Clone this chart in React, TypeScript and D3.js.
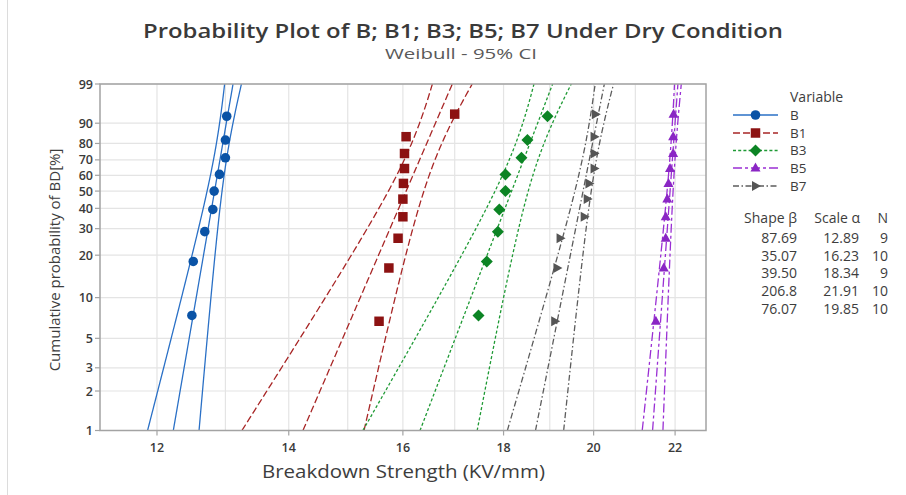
import React from "react";
import * as d3 from "d3";

// ---------- data ----------
const seriesNames = ["B", "B1", "B3", "B5", "B7"];
const valuesB = [12.5, 12.52, 12.69, 12.81, 12.83, 12.91, 13.0, 13.0, 13.02];
const valuesB1 = [15.56, 15.74, 15.91, 16.0, 16.0, 16.01, 16.03, 16.03, 16.06, 17.0];
const valuesB3 = [17.48, 17.65, 17.88, 17.91, 18.04, 18.04, 18.38, 18.51, 18.95];
const valuesB5 = [21.51, 21.71, 21.76, 21.76, 21.8, 21.83, 21.87, 21.95, 21.95, 21.96];
const valuesB7 = [19.11, 19.16, 19.23, 19.78, 19.85, 19.89, 20.01, 20.01, 20.01, 20.04];
const percent9 = [7.4, 18.1, 28.7, 39.4, 50.0, 60.6, 71.3, 81.9, 92.6];
const percent10 = [6.7, 16.3, 26.0, 35.6, 45.2, 54.8, 64.4, 74.0, 83.7, 93.3];
const shapes = [87.69, 35.07, 39.5, 206.8, 76.07];
const shapeLabels = ["87.69", "35.07", "39.50", "206.8", "76.07"];
const scales = [12.89, 16.23, 18.34, 21.91, 19.85];
const scaleLabels = ["12.89", "16.23", "18.34", "21.91", "19.85"];
const counts = [9, 10, 9, 10, 10];
const xTickValues = [12, 14, 16, 18, 20, 22];
const xGridValues = [12, 13, 14, 15, 16, 17, 18, 19, 20, 21, 22];
const yTickValues = [1, 2, 3, 5, 10, 20, 30, 40, 50, 60, 70, 80, 90, 99];

// ---------- styles ----------
const lineColors = ["#2a70c6", "#a82626", "#1f9a35", "#9a2fd4", "#5c5c5c"];
const markerColors = ["#0a53a6", "#8c1212", "#0c8424", "#8a26c4", "#555555"];
const dashes = ["none", "7,3", "3,2.2", "9,3,3,3", "6,2.5,1.5,2.5"];
const markerTypes = ["circle", "square", "diamond", "triangleUp", "triangleRight"];

const FONT = "'Open Sans', 'Noto Sans', sans-serif";

const weib = (p: number) => Math.log(-Math.log(1 - p));

function markerPath(type: string): string {
  switch (type) {
    case "circle":
      return d3.symbol(d3.symbolCircle, 72)()!;
    case "square":
      return d3.symbol(d3.symbolSquare, 90)()!;
    case "diamond":
      return "M0,-6L6,0L0,6L-6,0Z";
    case "triangleUp":
      return "M0,-5.5L5,3.5L-5,3.5Z";
    case "triangleRight":
      return "M5.5,0L-3.5,-5L-3.5,5Z";
  }
  return "";
}

export default function App() {
  const W = 906;
  const H = 495;
  const left = 100, right = 706, top = 84, bottom = 430.5;
  const x = d3.scaleLog().domain([11.226, 22.81]).range([left, right]);
  const y = d3.scaleLinear().domain([weib(0.01), weib(0.99)]).range([bottom, top]);

  const allValues = [valuesB, valuesB1, valuesB3, valuesB5, valuesB7];
  const allPercents = [percent9, percent10, percent9, percent10, percent10];

  const wLo = weib(0.01);
  const wHi = weib(0.99);
  const steps = d3.range(0, 121).map((i) => wLo + ((wHi - wLo) * i) / 120);
  const z = 1.96;

  const line = d3
    .line<[number, number]>()
    .x((d) => d[0])
    .y((d) => d[1]);

  const fitPaths = seriesNames.map((_, s) => {
    const beta = shapes[s];
    const alpha = scales[s];
    const n = counts[s];
    const center: [number, number][] = [];
    const lower: [number, number][] = [];
    const upper: [number, number][] = [];
    steps.forEach((w) => {
      const lx = Math.log(alpha) + w / beta;
      const se = Math.sqrt((1.1087 - 0.514 * w + 0.6079 * w * w) / (n * beta * beta));
      center.push([x(Math.exp(lx)), y(w)]);
      lower.push([x(Math.exp(lx - z * se)), y(w)]);
      upper.push([x(Math.exp(lx + z * se)), y(w)]);
    });
    return [line(center)!, line(lower)!, line(upper)!];
  });

  const legendX0 = 733, legendX1 = 778, legendText = 790;
  const legendY = [115, 133, 150.5, 168, 186];
  const tableRows = [238, 255.5, 273, 291, 308.5];
  const txt = "#3d3d3d";

  return (
    <svg
      width={W}
      height={H}
      style={{ position: "absolute", left: 0, top: 0, background: "#fff" }}
      fontFamily={FONT}
    >
      <rect x={0} y={0} width={W} height={H} fill="#fff" />
      <line x1={7.5} y1={0} x2={7.5} y2={H} stroke="#dcdcdc" strokeWidth={1} />
      <defs>
        <clipPath id="plotClip">
          <rect x={left} y={top} width={right - left} height={bottom - top} />
        </clipPath>
      </defs>

      {/* Title */}
      <text
        x={143}
        y={38}
        fontSize={20}
        fontWeight={600}
        fill="#3a3a3a"
        textLength={640}
        lengthAdjust="spacingAndGlyphs"
      >
        Probability Plot of B; B1; B3; B5; B7 Under Dry Condition
      </text>
      <text x={385} y={59} fontSize={15} fill="#595959" textLength={152} lengthAdjust="spacingAndGlyphs">
        Weibull - 95% CI
      </text>

      {/* grid */}
      {xGridValues.map((v) => (
        <line key={"gx" + v} x1={x(v)} x2={x(v)} y1={top} y2={bottom} stroke="#e4e4e4" strokeWidth={1.2} />
      ))}
      {yTickValues.map((v) => (
        <line
          key={"gy" + v}
          x1={left}
          x2={right}
          y1={y(weib(v / 100))}
          y2={y(weib(v / 100))}
          stroke="#e4e4e4"
          strokeWidth={1.2}
        />
      ))}

      {/* fit lines + CI */}
      <g clipPath="url(#plotClip)">
        {fitPaths.map((paths, s) =>
          paths.map((dPath, k) => (
            <path
              key={"p" + s + "-" + k}
              d={dPath}
              fill="none"
              stroke={lineColors[s]}
              strokeWidth={1.3}
              strokeDasharray={dashes[s]}
            />
          ))
        )}
      </g>

      {/* points */}
      {allValues.map((vals, s) =>
        vals.map((v, i) => (
          <path
            key={"m" + s + "-" + i}
            d={markerPath(markerTypes[s])}
            transform={`translate(${x(v)},${y(weib(allPercents[s][i] / 100))})`}
            fill={markerColors[s]}
          />
        ))
      )}

      {/* frame */}
      <rect x={left} y={top} width={right - left} height={bottom - top} fill="none" stroke="#a3a3a3" strokeWidth={1.5} />

      {/* y ticks */}
      {yTickValues.map((v) => (
        <g key={"yt" + v}>
          <line x1={left - 5} x2={left} y1={y(weib(v / 100))} y2={y(weib(v / 100))} stroke="#a3a3a3" strokeWidth={1.2} />
          <text
            x={left - 7}
            y={y(weib(v / 100))}
            dy="0.36em"
            textAnchor="end"
            fontSize={12.5}
            fontWeight={600}
            fill="#3a3a3a"
          >
            {v}
          </text>
        </g>
      ))}
      {/* x ticks */}
      {xTickValues.map((v) => (
        <g key={"xt" + v}>
          <line x1={x(v)} x2={x(v)} y1={bottom} y2={bottom + 5} stroke="#a3a3a3" strokeWidth={1.2} />
          <text x={x(v)} y={bottom + 21} textAnchor="middle" fontSize={12.5} fontWeight={600} fill="#3a3a3a">
            {v}
          </text>
        </g>
      ))}

      {/* axis titles */}
      <text x={262} y={478} fontSize={17.5} fill={txt} textLength={283} lengthAdjust="spacingAndGlyphs">
        Breakdown Strength (KV/mm)
      </text>
      <text
        transform={`translate(60,260) rotate(-90)`}
        textAnchor="middle"
        fontSize={15}
        fill={txt}
      >
        Cumulative probability of BD[%]
      </text>

      {/* legend */}
      <text x={legendText} y={102} fontSize={14} fill={txt}>
        Variable
      </text>
      {seriesNames.map((name, s) => (
        <g key={"lg" + name}>
          <line
            x1={legendX0}
            x2={legendX1}
            y1={legendY[s]}
            y2={legendY[s]}
            stroke={lineColors[s]}
            strokeWidth={1.3}
            strokeDasharray={dashes[s]}
          />
          <path
            d={markerPath(markerTypes[s])}
            transform={`translate(${(legendX0 + legendX1) / 2},${legendY[s]})`}
            fill={markerColors[s]}
          />
          <text x={legendText} y={legendY[s]} dy="0.36em" fontSize={13.5} fill={txt}>
            {name}
          </text>
        </g>
      ))}

      {/* table */}
      <text x={797} y={223} textAnchor="end" fontSize={14} fill={txt}>Shape β</text>
      <text x={860} y={223} textAnchor="end" fontSize={14} fill={txt}>Scale α</text>
      <text x={888} y={223} textAnchor="end" fontSize={14} fill={txt}>N</text>
      {seriesNames.map((name, s) => (
        <g key={"tb" + name}>
          <text x={797} y={tableRows[s]} dy="0.36em" textAnchor="end" fontSize={14} fill={txt}>
            {shapeLabels[s]}
          </text>
          <text x={859} y={tableRows[s]} dy="0.36em" textAnchor="end" fontSize={14} fill={txt}>
            {scaleLabels[s]}
          </text>
          <text x={888} y={tableRows[s]} dy="0.36em" textAnchor="end" fontSize={14} fill={txt}>
            {counts[s]}
          </text>
        </g>
      ))}
    </svg>
  );
}
